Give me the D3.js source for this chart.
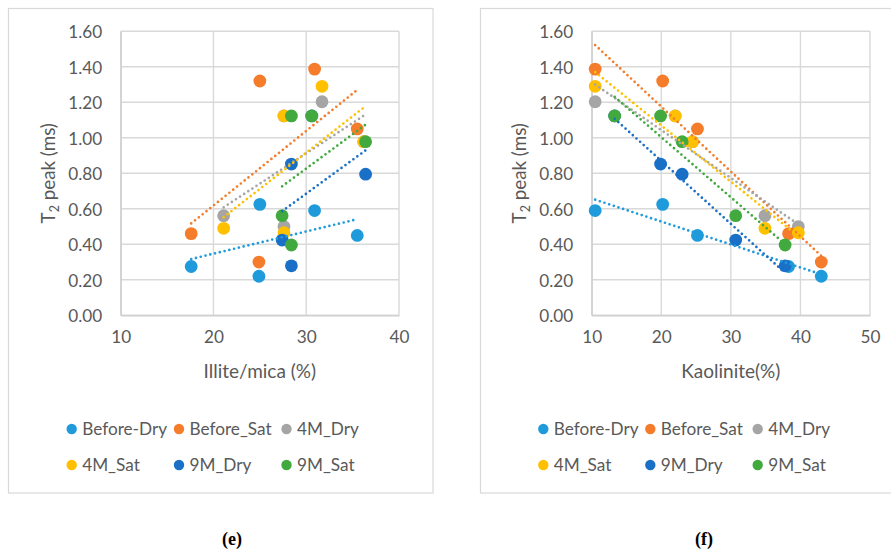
<!DOCTYPE html>
<html>
<head>
<meta charset="utf-8">
<script src="https://cdn.jsdelivr.net/npm/d3@7/dist/d3.min.js"></script>
<style>
  html, body { margin: 0; padding: 0; background: #ffffff; }
  svg { display: block; }
  text { font-family: Lato, "Open Sans", sans-serif; fill: #595959; }
</style>
</head>
<body>
<svg id="chart" width="891" height="554"></svg>
<script>
// Series names (legend order) and marker colours
const seriesNames = ["Before-Dry", "Before_Sat", "4M_Dry", "4M_Sat", "9M_Dry", "9M_Sat"];
const seriesColors = ["#1f9bdb", "#f57c2b", "#a5a5a5", "#ffc000", "#1a6fc6", "#41a93d"];

// Mineral content (%) of the samples measured at each stage
const illiteBefore    = [30.9, 25.0, 35.5, 17.6, 24.9];
const kaoliniteBefore = [10.5, 20.2, 25.2, 38.3, 43.0];
const illite4M        = [31.7, 27.6, 36.2, 21.1, 27.6];
const kaolinite4M     = [10.5, 22.0, 24.5, 34.9, 39.7];
const illite9M        = [30.6, 28.4, 36.4, 27.4, 28.4];
const kaolinite9M     = [13.3, 19.9, 23.0, 30.7, 37.8];

// T2 peak (ms) per series
const beforeDry = [0.59, 0.625, 0.45, 0.275, 0.22];
const beforeSat = [1.387, 1.32, 1.05, 0.46, 0.30];
const dry4M     = [1.203, 1.123, 0.978, 0.561, 0.50];
const sat4M     = [1.29, 1.123, 0.978, 0.49, 0.465];
const dry9M     = [1.123, 0.852, 0.795, 0.424, 0.279];
const sat9M     = [1.123, 1.123, 0.978, 0.561, 0.396];

// Axis ticks
const yTicks = [0, 0.2, 0.4, 0.6, 0.8, 1.0, 1.2, 1.4, 1.6];
const xTicksIllite = [10, 20, 30, 40];
const xTicksKaolinite = [10, 20, 30, 40, 50];

const seriesValues = [beforeDry, beforeSat, dry4M, sat4M, dry9M, sat9M];
const illiteBySeries = [illiteBefore, illiteBefore, illite4M, illite4M, illite9M, illite9M];
const kaoliniteBySeries = [kaoliniteBefore, kaoliniteBefore, kaolinite4M, kaolinite4M, kaolinite9M, kaolinite9M];

const svg = d3.select("#chart");

const panels = [
  {
    frame: { x: 8.5, y: 8.5, w: 424.5, h: 484.5 },
    plot: { left: 120.7, right: 399, top: 31.3, bottom: 315.3 },
    xDomain: [10, 40], xTicks: xTicksIllite, xs: illiteBySeries,
    xTitle: "Illite/mica (%)", yTitleX: 48.5,
    legendX: [71.7, 179, 286.5], caption: "(e)", captionX: 232
  },
  {
    frame: { x: 480.5, y: 8.5, w: 430, h: 484.5 },
    plot: { left: 591.7, right: 870, top: 31.3, bottom: 315.3 },
    xDomain: [10, 50], xTicks: xTicksKaolinite, xs: kaoliniteBySeries,
    xTitle: "Kaolinite(%)", yTitleX: 519.5,
    legendX: [543.3, 650.3, 757.7], caption: "(f)", captionX: 704
  }
];

function fitLine(xs, ys) {
  const mx = d3.mean(xs), my = d3.mean(ys);
  let sxy = 0, sxx = 0;
  xs.forEach((x, i) => { sxy += (x - mx) * (ys[i] - my); sxx += (x - mx) * (x - mx); });
  const slope = sxy / sxx;
  const x0 = d3.min(xs), x1 = d3.max(xs);
  return [[x0, my + slope * (x0 - mx)], [x1, my + slope * (x1 - mx)]];
}

panels.forEach(p => {
  const g = svg.append("g");

  // outer frame
  g.append("rect")
    .attr("x", p.frame.x).attr("y", p.frame.y)
    .attr("width", p.frame.w).attr("height", p.frame.h)
    .attr("fill", "#ffffff").attr("stroke", "#d9d9d9").attr("stroke-width", 1.2);

  const x = d3.scaleLinear().domain(p.xDomain).range([p.plot.left, p.plot.right]);
  const y = d3.scaleLinear().domain([0, 1.6]).range([p.plot.bottom, p.plot.top]);

  // gridlines
  const grid = g.append("g").attr("stroke", "#d9d9d9").attr("stroke-width", 1.4);
  grid.selectAll(".gy").data(yTicks).join("line")
    .attr("x1", p.plot.left).attr("x2", p.plot.right)
    .attr("y1", d => y(d)).attr("y2", d => y(d));
  grid.selectAll(".gx").data(p.xTicks).join("line")
    .attr("y1", p.plot.top).attr("y2", p.plot.bottom)
    .attr("x1", d => x(d)).attr("x2", d => x(d));

  // axes
  const yAxis = g.append("g")
    .attr("transform", `translate(${p.plot.left},0)`)
    .call(d3.axisLeft(y).tickValues(yTicks).tickFormat(d3.format(".2f")).tickSize(0).tickPadding(18.5));
  const xAxis = g.append("g")
    .attr("transform", `translate(0,${p.plot.bottom})`)
    .call(d3.axisBottom(x).tickValues(p.xTicks).tickFormat(d3.format("d")).tickSize(0).tickPadding(15.5));
  [yAxis, xAxis].forEach(a => {
    a.select(".domain").attr("stroke", "#d0d0d0").attr("stroke-width", 1.4);
    a.selectAll("text").attr("fill", "#595959").style("font-size", "17.2px")
      .style("font-family", "Lato, 'Open Sans', sans-serif");
  });
  yAxis.selectAll("text").attr("dy", "0.36em");

  // axis titles
  const yt = g.append("text")
    .attr("transform", `translate(${p.yTitleX},${(p.plot.top + p.plot.bottom) / 2}) rotate(-90)`)
    .attr("text-anchor", "middle").attr("dy", "0.35em")
    .style("font-size", "18.8px");
  yt.append("tspan").text("T");
  yt.append("tspan").attr("dy", 4).style("font-size", "12.5px").text("2");
  yt.append("tspan").attr("dy", -4).text(" peak (ms)");

  g.append("text")
    .attr("x", (p.plot.left + p.plot.right) / 2).attr("y", 371.5)
    .attr("text-anchor", "middle").attr("dy", "0.35em")
    .style("font-size", "19px").text(p.xTitle);

  // markers
  seriesValues.forEach((vals, si) => {
    g.append("g").selectAll("circle").data(vals).join("circle")
      .attr("cx", (d, i) => x(p.xs[si][i]))
      .attr("cy", d => y(d))
      .attr("r", 6.4)
      .attr("fill", seriesColors[si]);
  });

  // linear trendlines
  seriesValues.forEach((vals, si) => {
    const pts = fitLine(p.xs[si], vals);
    g.append("line")
      .attr("x1", x(pts[0][0])).attr("y1", y(pts[0][1]))
      .attr("x2", x(pts[1][0])).attr("y2", y(pts[1][1]))
      .attr("stroke", seriesColors[si]).attr("stroke-width", 2.7)
      .attr("stroke-linecap", "round").attr("stroke-dasharray", "0 4.9");
  });

  // legend (two rows of three)
  const rows = [429, 465];
  seriesNames.forEach((name, si) => {
    const lx = p.legendX[si % 3], ly = rows[Math.floor(si / 3)];
    g.append("circle").attr("cx", lx).attr("cy", ly).attr("r", 5.2).attr("fill", seriesColors[si]);
    g.append("text").attr("x", lx + 10.5).attr("y", ly).attr("dy", "0.36em")
      .style("font-size", "17.2px").text(name);
  });

  // panel caption
  g.append("text")
    .attr("x", p.captionX).attr("y", 539).attr("dy", "0.35em")
    .attr("text-anchor", "middle")
    .style("font-family", "'Liberation Serif', 'DejaVu Serif', serif")
    .style("font-weight", "bold").style("font-size", "18px")
    .style("fill", "#000000").text(p.caption);
});
</script>
</body>
</html>
